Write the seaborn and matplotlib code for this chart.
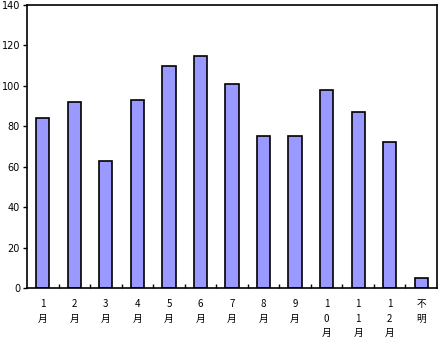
import matplotlib
matplotlib.use("Agg")
import matplotlib.pyplot as plt
import seaborn as sns
import pandas as pd

categories = ["1月", "2月", "3月", "4月", "5月", "6月", "7月", "8月", "9月", "10月", "11月", "12月", "不明"]
values = [84, 92, 63, 93, 110, 115, 101, 75, 75, 98, 87, 72, 5]
tick_labels = ["1\n月", "2\n月", "3\n月", "4\n月", "5\n月", "6\n月", "7\n月", "8\n月", "9\n月",
               "1\n0\n月", "1\n1\n月", "1\n2\n月", "不\n明"]

sns.set_theme(style="white")
plt.rcParams['font.family'] = ['Noto Sans CJK JP', 'DejaVu Sans']
plt.rcParams['text.color'] = 'black'
plt.rcParams['xtick.color'] = 'black'
plt.rcParams['ytick.color'] = 'black'

df = pd.DataFrame({"cat": categories, "val": values})

fig = plt.figure(figsize=(4.4, 3.38), dpi=100)
ax = fig.add_axes([27/440, 1 - 288/338, (437-27)/440, (288-5)/338])
sns.barplot(data=df, x="cat", y="val", color="#9999FF", saturation=1, width=0.42,
            edgecolor="black", linewidth=1.2, ax=ax)

ax.set_ylim(0, 140)
ax.set_xlim(-0.5, len(categories) - 0.5)
ax.set_yticks(range(0, 141, 20))
ax.set_yticklabels([str(v) for v in range(0, 141, 20)], fontsize=7, family=['DejaVu Sans'], color="black")
ax.set_xticks(range(len(categories)))
ax.set_xticklabels(tick_labels, fontsize=7, linespacing=1.55, va="top", color="black")
ax.tick_params(axis="x", length=0, pad=8)
ax.set_xticks([i + 0.5 for i in range(len(categories) - 1)], minor=True)
ax.tick_params(axis="x", which="minor", direction="in", length=3, width=1, color="black", bottom=True)
ax.tick_params(axis="y", direction="out", length=3, width=1, color="black", left=True, pad=2)
ax.set_xlabel("")
ax.set_ylabel("")
for s in ax.spines.values():
    s.set_color("black")
    s.set_linewidth(1.2)

fig.savefig("out.png", dpi=100)
